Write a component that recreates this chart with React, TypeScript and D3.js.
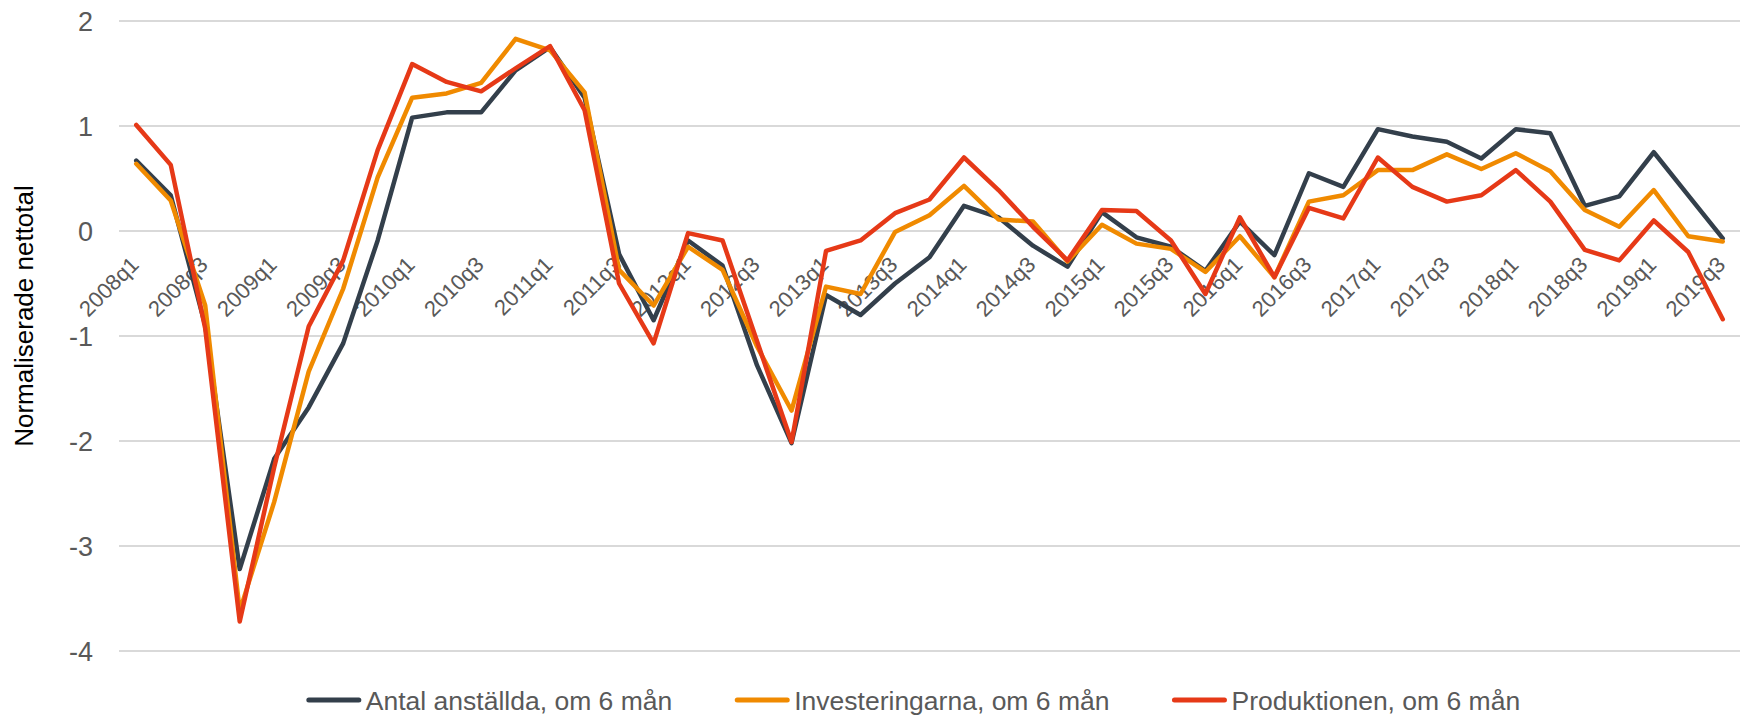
import React, { useEffect, useRef } from 'react'
import * as d3 from 'd3'

// quarters 2008q1 .. 2019q3
const quarters: string[] = []
for (let y = 2008; y <= 2019; y++) {
  for (let q = 1; q <= 4; q++) {
    if (y === 2019 && q === 4) break
    quarters.push(`${y}q${q}`)
  }
}

const anstallda = [
  0.67, 0.34, -0.90, -3.22, -2.17, -1.68, -1.07, -0.09, 1.08, 1.13, 1.13, 1.53,
  1.75, 1.27, -0.22, -0.85, -0.09, -0.33, -1.28, -2.02, -0.61, -0.80, -0.50, -0.25,
  0.24, 0.13, -0.14, -0.34, 0.18, -0.06, -0.15, -0.38, 0.09, -0.23, 0.55, 0.42,
  0.97, 0.90, 0.85, 0.69, 0.97, 0.93, 0.24, 0.33, 0.75, 0.34, -0.07,
]

const investeringarna = [
  0.64, 0.29, -0.71, -3.62, -2.58, -1.34, -0.55, 0.51, 1.27, 1.31, 1.41, 1.83,
  1.72, 1.32, -0.37, -0.71, -0.15, -0.37, -1.10, -1.71, -0.53, -0.60, -0.01, 0.15,
  0.43, 0.11, 0.09, -0.29, 0.06, -0.12, -0.17, -0.39, -0.05, -0.44, 0.28, 0.34,
  0.58, 0.58, 0.73, 0.59, 0.74, 0.57, 0.20, 0.04, 0.39, -0.05, -0.10,
]

const produktionen = [
  1.01, 0.63, -0.93, -3.72, -2.25, -0.91, -0.28, 0.77, 1.59, 1.42, 1.33, 1.55,
  1.76, 1.15, -0.50, -1.07, -0.02, -0.09, -1.05, -2.01, -0.19, -0.09, 0.17, 0.30,
  0.70, 0.39, 0.04, -0.28, 0.20, 0.19, -0.09, -0.60, 0.13, -0.44, 0.22, 0.12,
  0.70, 0.42, 0.28, 0.34, 0.58, 0.28, -0.18, -0.28, 0.10, -0.20, -0.84,
]

const yTicks = [2, 1, 0, -1, -2, -3, -4]

const series = [
  { name: 'Antal anställda, om 6 mån', values: anstallda, color: '#333f4b' },
  { name: 'Investeringarna, om 6 mån', values: investeringarna, color: '#f08a00' },
  { name: 'Produktionen, om 6 mån', values: produktionen, color: '#e63917' },
]

const W = 1748
const H = 717
const FONT = '"Liberation Sans", Arial, sans-serif'

function App() {
  const ref = useRef<SVGSVGElement>(null)

  useEffect(() => {
    document.body.style.margin = '0'
    const svg = d3.select(ref.current)
    svg.selectAll('*').remove()

    const margin = { top: 21, right: 8, bottom: 66, left: 119 }
    const width = W - margin.left - margin.right
    const height = H - margin.top - margin.bottom

    const x = d3.scaleBand().domain(quarters).range([margin.left, margin.left + width])
    const cx = (q: string) => (x(q) as number) + x.bandwidth() / 2
    const y = d3.scaleLinear().domain([-4, 2]).range([margin.top + height, margin.top])

    // gridlines
    svg.append('g')
      .selectAll('line')
      .data(yTicks)
      .join('line')
      .attr('x1', margin.left)
      .attr('x2', margin.left + width)
      .attr('y1', d => y(d))
      .attr('y2', d => y(d))
      .attr('stroke', '#d9d9d9')
      .attr('stroke-width', 2)

    // y tick labels
    svg.append('g')
      .selectAll('text')
      .data(yTicks)
      .join('text')
      .attr('x', margin.left - 26)
      .attr('y', d => y(d))
      .attr('dy', '0.36em')
      .attr('text-anchor', 'end')
      .attr('font-family', FONT)
      .attr('font-size', 27)
      .attr('fill', '#595959')
      .text(d => d)

    // y title
    svg.append('text')
      .attr('transform', `translate(33, 316) rotate(-90)`)
      .attr('text-anchor', 'middle')
      .attr('font-family', FONT)
      .attr('font-size', 26)
      .attr('fill', '#000')
      .text('Normaliserade nettotal')

    // x labels (q1 and q3), hanging under the zero line
    svg.append('g')
      .selectAll('text')
      .data(quarters.filter((_, i) => i % 2 === 0))
      .join('text')
      .attr('transform', d => `translate(${cx(d) + 4}, ${y(0) + 35}) rotate(-45)`)
      .attr('text-anchor', 'end')
      .attr('font-family', FONT)
      .attr('font-size', 22)
      .attr('fill', '#595959')
      .text(d => d)

    // lines
    const line = d3.line<number>()
      .x((_, i) => cx(quarters[i]))
      .y(d => y(d))

    series.forEach(s => {
      svg.append('path')
        .datum(s.values)
        .attr('fill', 'none')
        .attr('stroke', s.color)
        .attr('stroke-width', 4.5)
        .attr('stroke-linejoin', 'round')
        .attr('stroke-linecap', 'round')
        .attr('d', line)
    })

    // legend
    const legend = svg.append('g')
    const swatch = 54, gapText = 5, gapItem = 63
    const items: { g: any; w: number }[] = []
    series.forEach(s => {
      const g = legend.append('g')
      g.append('line')
        .attr('x1', 2).attr('x2', swatch - 2)
        .attr('y1', 0).attr('y2', 0)
        .attr('stroke', s.color)
        .attr('stroke-width', 5)
        .attr('stroke-linecap', 'round')
      const t = g.append('text')
        .attr('x', swatch + gapText)
        .attr('y', 0)
        .attr('dy', '0.36em')
        .attr('font-family', FONT)
        .attr('font-size', 26.5)
        .attr('fill', '#595959')
        .text(s.name)
      const w = swatch + gapText + (t.node() as SVGTextElement).getComputedTextLength()
      items.push({ g, w })
    })
    const total = items.reduce((a, b) => a + b.w, 0) + gapItem * (items.length - 1)
    let cursor = 913.5 - total / 2
    items.forEach(it => {
      it.g.attr('transform', `translate(${cursor}, 700)`)
      cursor += it.w + gapItem
    })
  }, [])

  return <svg ref={ref} width={W} height={H} style={{ display: 'block', background: '#fff' }} />
}

export default App
